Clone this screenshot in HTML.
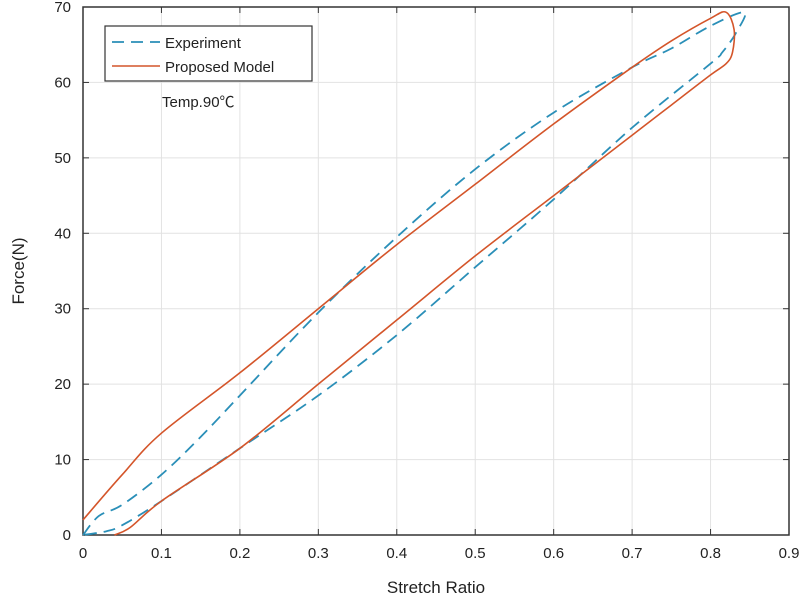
<!DOCTYPE html>
<html><head><meta charset="utf-8"><style>
html,body{margin:0;padding:0;background:#fff;}
body{position:relative;width:800px;height:600px;}
svg{display:block;font-family:"Liberation Sans","Noto Sans CJK SC",sans-serif;}
</style></head><body>
<svg id="chart" width="800" height="600"></svg>
<script>
const xTicks=[0,0.1,0.2,0.3,0.4,0.5,0.6,0.7,0.8,0.9];
const xTickLabels=["0","0.1","0.2","0.3","0.4","0.5","0.6","0.7","0.8","0.9"];
const yTicks=[0,10,20,30,40,50,60,70];
const yTickLabels=["0","10","20","30","40","50","60","70"];
const expX=[0,0.02,0.05,0.1,0.15,0.2,0.3,0.4,0.5,0.6,0.7,0.75,0.8,0.843,0.832,0.815,0.8,0.7,0.6,0.5,0.4,0.3,0.2,0.1,0.05,0.03,0];
const expY=[0,2.5,4,8,13,18.5,29.5,39.5,48.5,56,62,64.5,67.5,69.3,66.5,64,62.5,54,44.5,35.5,26.5,18.5,11.5,4.5,1.3,0.5,0];
const modX=[0,0.05,0.1,0.2,0.3,0.4,0.5,0.6,0.7,0.75,0.8,0.82,0.83,0.828,0.82,0.8,0.75,0.7,0.6,0.5,0.4,0.3,0.2,0.1,0.06,0.04];
const modY=[2,8,13.5,21.5,30,38.5,46.5,54.5,62,65.5,68.5,69.3,67,64,62.5,61,57,53,45,37,28.5,20,11.5,4.5,1,0];
const L=83,R=789,T=7,B=535;
const sx=v=>L+(v-0)/(0.9)*(R-L);
const sy=v=>B-(v/70)*(B-T);
const svg=document.getElementById('chart');
const NS='http://www.w3.org/2000/svg';
function mk(t,a,p){const e=document.createElementNS(NS,t);for(const k in a)e.setAttribute(k,a[k]);(p||svg).appendChild(e);return e;}
const grid=mk('g',{});


xTicks.forEach((v,i)=>{
  if(i>0&&i<xTicks.length-1){mk('line',{x1:sx(v),x2:sx(v),y1:T,y2:B,stroke:'#e2e2e2','stroke-width':1},grid);}
  const t=mk('text',{x:sx(v),y:B+23,'text-anchor':'middle','font-size':15,fill:'#222'});
  t.textContent=xTickLabels[i];
  
  
  mk('line',{x1:sx(v),x2:sx(v),y1:B,y2:B-6,stroke:'#333'});
  mk('line',{x1:sx(v),x2:sx(v),y1:T,y2:T+6,stroke:'#333'});
});
yTicks.forEach((v,i)=>{
  if(i>0&&i<yTicks.length-1){mk('line',{x1:L,x2:R,y1:sy(v),y2:sy(v),stroke:'#e2e2e2','stroke-width':1},grid);}
  const t=mk('text',{x:L-12,y:sy(v)+5,'text-anchor':'end','font-size':15,fill:'#222'});
  t.textContent=yTickLabels[i];
  
  
  mk('line',{x1:L,x2:L+6,y1:sy(v),y2:sy(v),stroke:'#333'});
  mk('line',{x1:R,x2:R-6,y1:sy(v),y2:sy(v),stroke:'#333'});
});
const frame=mk('rect',{x:L,y:T,width:R-L,height:B-T,fill:'none',stroke:'#333','stroke-width':1.5});


function path(xs,ys){
  const p=xs.map((x,i)=>[sx(x),sy(ys[i])]);
  let d='M'+p[0][0].toFixed(1)+','+p[0][1].toFixed(1);
  for(let i=0;i<p.length-1;i++){
    const p0=p[Math.max(0,i-1)],p1=p[i],p2=p[i+1],p3=p[Math.min(p.length-1,i+2)];
    const c1=[p1[0]+(p2[0]-p0[0])/6,p1[1]+(p2[1]-p0[1])/6];
    const c2=[p2[0]-(p3[0]-p1[0])/6,p2[1]-(p3[1]-p1[1])/6];
    d+=' C'+c1[0].toFixed(1)+','+c1[1].toFixed(1)+' '+c2[0].toFixed(1)+','+c2[1].toFixed(1)+' '+p2[0].toFixed(1)+','+p2[1].toFixed(1);
  }
  return d;
}
const e=mk('path',{d:path(expX,expY),fill:'none',stroke:'#2a8fb8','stroke-width':1.8,'stroke-dasharray':'12,7'});


const m=mk('path',{d:path(modX,modY),fill:'none',stroke:'#d4552a','stroke-width':1.6,'stroke-linejoin':'round'});


</script>
<svg width="800" height="600" style="position:absolute;left:0;top:0">
<g>
<rect x="105" y="26" width="207" height="55" fill="#fff" stroke="#333" stroke-width="1.2"/>
<line x1="112" y1="42" x2="160" y2="42" stroke="#2a8fb8" stroke-width="1.8" stroke-dasharray="12,7"/>
<text x="165" y="48" font-size="15" fill="#222" font-family="Liberation Sans, sans-serif">Experiment</text>
<line x1="112" y1="66" x2="160" y2="66" stroke="#d4552a" stroke-width="1.6"/>
<text x="165" y="72" font-size="15" fill="#222" font-family="Liberation Sans, sans-serif">Proposed Model</text>
</g>
<text x="162" y="107" font-size="15" fill="#222" font-family="Liberation Sans, Noto Sans CJK SC, sans-serif">Temp.90℃</text>
<text x="436" y="593" text-anchor="middle" font-size="17" fill="#222" font-family="Liberation Sans, sans-serif">Stretch Ratio</text>
<text transform="translate(24,271) rotate(-90)" text-anchor="middle" font-size="17" fill="#222" font-family="Liberation Sans, sans-serif">Force(N)</text>
</svg>
</body></html>
